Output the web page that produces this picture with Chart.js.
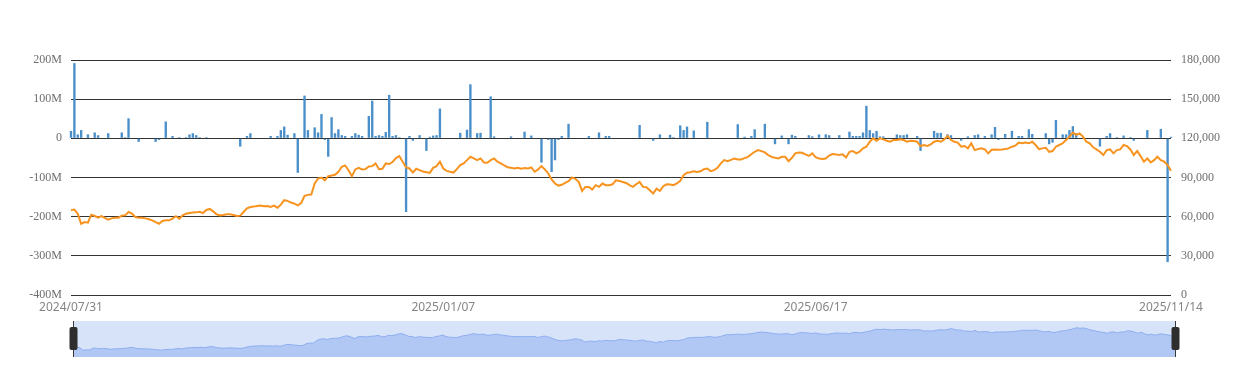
<!DOCTYPE html>
<html>
<head>
<meta charset="utf-8">
<script src="https://cdn.jsdelivr.net/npm/chart.js@4.4.1/dist/chart.umd.min.js"></script>
<style>
    html, body { margin: 0; padding: 0; background: #fff; }
    #wrap { position: relative; width: 1243px; height: 365px; }
    #main { position: absolute; left: 0; top: 0; }
    #slider { position: absolute; left: 0; top: 321px; }
</style>
</head>
<body>
<div id="wrap">
    <canvas id="main" width="1243" height="320"></canvas>
    <canvas id="slider" width="1243" height="37"></canvas>
</div>
<script>
// Trading days (US market) shown on the category axis
var firstDay = '2024-07-31';
var lastDay = '2025-11-14';
var holidays = [
    '2024-09-02', '2024-11-28', '2024-12-25', '2025-01-01', '2025-01-09', '2025-01-20',
    '2025-02-17', '2025-04-18', '2025-05-26', '2025-06-19', '2025-07-04', '2025-09-01'
];
var xTickLabels = ['2024/07/31', '2025/01/07', '2025/06/17', '2025/11/14'];

// Daily net flow, millions
var netFlow = [
    19, 192, 10, 21, 0, 10, 0, 15, 8, 0,
    0, 13, 0, 0, 0, 15, 3, 51, 0, 0,
    -9, 0, 0, 0, 0, -9, -4, 0, 43, 0,
    6, 0, 3, 0, 3, 10, 13, 8, 3, 0,
    3, 0, 0, 0, 0, 0, 0, 0, 0, 0,
    -21, 0, 6, 13, 0, 0, 0, 0, 0, 6,
    0, 6, 21, 30, 9, 0, 13, -88, 0, 109,
    21, 0, 28, 15, 62, -4, -47, 54, 13, 23,
    8, 6, 0, 6, 13, 9, 6, 0, 57, 96,
    6, 8, 6, 16, 111, 6, 8, 3, 0, -188,
    6, -6, 0, 8, 0, -32, 4, 7, 8, 76,
    0, 0, 0, 0, 0, 14, 0, 22, 138, 0,
    13, 14, 0, 0, 107, 5, 0, 0, 0, 0,
    5, 0, 0, 0, 17, 0, 7, 0, 0, -62,
    0, -4, -86, -56, -4, 6, 0, 37, 0, 0,
    0, 0, 0, 6, 0, 0, 15, 0, 6, 6,
    0, 0, 0, 0, 0, 0, 0, 0, 34, 0,
    0, 0, -6, 0, 10, 0, 0, 9, 3, 0,
    33, 21, 30, 0, 20, 0, 0, 0, 42, 0,
    0, 0, 0, 0, 0, 0, 0, 36, 0, 4,
    0, 6, 23, 0, 0, 37, 0, 0, -15, 0,
    7, 0, -15, 9, 6, 0, 0, 0, 8, 5,
    0, 10, 0, 10, 8, 0, 0, 8, 0, 0,
    17, 6, 6, 6, 15, 83, 21, 13, 19, 5,
    5, 0, 0, 0, 10, 8, 8, 10, 0, 0,
    6, -32, 0, 0, 0, 19, 14, 14, 0, 10,
    8, 0, 0, -6, 0, 5, 0, 8, 10, 0,
    6, 0, 10, 29, -4, 0, 11, 0, 19, 0,
    6, 6, 0, 23, 11, 0, 0, 0, 13, -15,
    -11, 47, 0, 10, 10, 21, 31, 13, 0, 0,
    0, 0, 0, 0, -21, 0, 6, 13, 0, 3,
    0, 7, 0, 3, -6, 0, 0, 0, 21, 0,
    0, 0, 24, 0, -316, 4
];

// Daily price
var price = [
    64900, 65400, 62300, 54600, 55900, 55400, 61500, 60500, 59200, 60500,
    59000, 57700, 58700, 59200, 59200, 60800, 61000, 63600, 62300, 59700,
    59200, 59200, 58700, 58000, 57200, 55900, 54600, 56700, 57200, 57200,
    58500, 60300, 58500, 61000, 62300, 62800, 63100, 63300, 63800, 62800,
    65100, 65900, 64100, 61800, 61000, 61300, 61800, 61800, 61300, 60500,
    60800, 63600, 66400, 67400, 67700, 68200, 68500, 68000, 68200, 67400,
    68500, 66900, 69200, 72600, 72100, 70800, 70000, 68700, 70500, 75900,
    76700, 76900, 85400, 89200, 90000, 87900, 91000, 91500, 92100, 94400,
    98200, 99200, 95600, 91000, 96200, 97400, 96200, 96400, 98500, 98700,
    100800, 96400, 96700, 100800, 100300, 101800, 104900, 106400, 102100, 97700,
    96900, 93800, 96700, 95600, 94600, 94100, 93600, 97400, 98700, 102100,
    96900, 95100, 94400, 93800, 96400, 99500, 100800, 103300, 105900, 104600,
    103300, 104600, 101500, 101300, 103300, 104600, 102100, 100800, 99200, 97900,
    97400, 96900, 97400, 96700, 97200, 96900, 97700, 94400, 96200, 98700,
    96200, 93100, 88500, 85400, 83800, 84400, 85900, 87200, 90000, 89000,
    86700, 79700, 82800, 82800, 80800, 84100, 82800, 85400, 84100, 84100,
    84800, 87900, 87400, 86600, 85800, 84100, 82800, 84800, 86600, 82800,
    82500, 80200, 77700, 81500, 79700, 83300, 84800, 84600, 84100, 85400,
    87400, 91800, 93600, 94000, 94800, 94300, 94800, 96400, 96900, 94800,
    95600, 97400, 100800, 103300, 102500, 103500, 104600, 103800, 103800, 104800,
    105800, 107800, 109700, 111000, 110200, 109200, 107200, 105800, 105100, 104600,
    105800, 105800, 102500, 105100, 108500, 109200, 108900, 107700, 106500, 108500,
    105600, 104600, 104200, 104500, 106800, 108000, 107700, 107200, 107700, 105400,
    109700, 110300, 108500, 109700, 112300, 113600, 117400, 120000, 118200, 120000,
    119200, 118200, 117400, 118700, 118700, 119200, 118700, 117400, 118200, 117900,
    117400, 114000, 114900, 114100, 115400, 117400, 118200, 117400, 119200, 121800,
    118700, 117400, 116700, 113600, 114100, 112300, 116200, 111000, 111800, 112300,
    111500, 108500, 111200, 111400, 111300, 111500, 111800, 112300, 113600, 114400,
    116700, 116200, 116700, 116200, 117400, 114900, 111800, 112300, 112800, 109700,
    110300, 113600, 114900, 116200, 118700, 121300, 124400, 122600, 123800, 121300,
    117400, 116200, 113100, 111500, 109700, 107200, 111000, 111500, 108500, 111000,
    111500, 114900, 114100, 111500, 107200, 110300, 106400, 102100, 104600, 101500,
    103300, 105900, 103300, 102100, 99500, 95100
];

function pad2(n) { return (n < 10 ? '0' : '') + n; }

var categories = [];
var day = new Date(firstDay + 'T00:00:00Z');
var end = new Date(lastDay + 'T00:00:00Z');
while (day <= end) {
    var iso = day.toISOString().slice(0, 10);
    var dow = day.getUTCDay();
    if (dow !== 0 && dow !== 6 && holidays.indexOf(iso) < 0) {
        categories.push(day.getUTCFullYear() + '/' + pad2(day.getUTCMonth() + 1) + '/' + pad2(day.getUTCDate()));
    }
    day.setUTCDate(day.getUTCDate() + 1);
}

var serif = "'Liberation Serif', 'Times New Roman', serif";

// Main chart
new Chart(document.getElementById('main'), {
    data: {
        labels: categories,
        datasets: [
            {
                type: 'line',
                data: price,
                yAxisID: 'y1',
                borderColor: '#f7931e',
                borderWidth: 2,
                pointRadius: 0,
                tension: 0,
                order: 0
            },
            {
                type: 'bar',
                data: netFlow,
                yAxisID: 'y',
                backgroundColor: '#4a8fc9',
                categoryPercentage: 1,
                barPercentage: 0.7,
                clip: false,
                order: 1
            }
        ]
    },
    options: {
        responsive: false,
        animation: false,
        layout: { padding: { top: 60, left: 0, right: 0, bottom: 0 } },
        plugins: {
            legend: { display: false },
            tooltip: { enabled: false }
        },
        scales: {
            x: {
                offset: false,
                grid: { display: false, drawTicks: false },
                border: { display: false },
                ticks: {
                    autoSkip: false,
                    maxRotation: 0,
                    padding: 5,
                    color: '#858585',
                    font: { family: "'Noto Sans', sans-serif", size: 12 },
                    callback: function (v, i) {
                        var label = categories[i];
                        return xTickLabels.indexOf(label) >= 0 ? label : null;
                    }
                },
                afterFit: function (scale) { scale.height = 25; }
            },
            y: {
                position: 'left',
                min: -400,
                max: 200,
                grid: { color: '#333', lineWidth: 1, drawTicks: false },
                border: { display: false },
                ticks: {
                    stepSize: 100,
                    padding: 9,
                    color: '#6e6e6e',
                    font: { family: serif, size: 12 },
                    callback: function (v) { return v === 0 ? '0' : v + 'M'; }
                },
                afterFit: function (scale) { scale.width = 71; }
            },
            y1: {
                position: 'right',
                min: 0,
                max: 180000,
                grid: { display: false, drawTicks: false },
                border: { display: false },
                ticks: {
                    stepSize: 30000,
                    padding: 10,
                    color: '#6e6e6e',
                    font: { family: serif, size: 12 },
                    callback: function (v) { return v.toLocaleString('en-US'); }
                },
                afterFit: function (scale) { scale.width = 72; }
            }
        }
    }
});

// Data zoom strip under the chart
var lo = Math.min.apply(null, price);
var hi = Math.max.apply(null, price);
var extra = (hi - lo) * 0.3;

var sliderFrame = {
    id: 'sliderFrame',
    beforeDatasetsDraw: function (chart) {
        var a = chart.chartArea, ctx = chart.ctx;
        ctx.save();
        ctx.fillStyle = '#d7e3f8';
        ctx.fillRect(a.left, a.top, a.right - a.left, a.bottom - a.top);
        ctx.restore();
    },
    afterDraw: function (chart) {
        var a = chart.chartArea, ctx = chart.ctx;
        ctx.save();
        [a.left, a.right].forEach(function (x) {
            ctx.strokeStyle = '#3a3a3a';
            ctx.lineWidth = 1;
            ctx.beginPath();
            ctx.moveTo(Math.round(x) + 0.5, a.top);
            ctx.lineTo(Math.round(x) + 0.5, a.bottom);
            ctx.stroke();
            ctx.fillStyle = '#2e2e2e';
            ctx.beginPath();
            ctx.roundRect(Math.round(x) - 3.5, a.top + 6, 8, 23, 2);
            ctx.fill();
        });
        ctx.restore();
    }
};

new Chart(document.getElementById('slider'), {
    type: 'line',
    data: {
        labels: categories,
        datasets: [{
            data: price,
            fill: 'start',
            backgroundColor: '#b1c8f5',
            borderColor: '#8eaef0',
            borderWidth: 1,
            pointRadius: 0,
            tension: 0
        }]
    },
    options: {
        responsive: false,
        animation: false,
        layout: { padding: { left: 73, right: 68, top: 0, bottom: 1 } },
        plugins: {
            legend: { display: false },
            tooltip: { enabled: false }
        },
        scales: {
            x: { display: false, offset: false },
            y: { display: false, min: lo - extra, max: hi + extra }
        }
    },
    plugins: [sliderFrame]
});
</script>
</body>
</html>
